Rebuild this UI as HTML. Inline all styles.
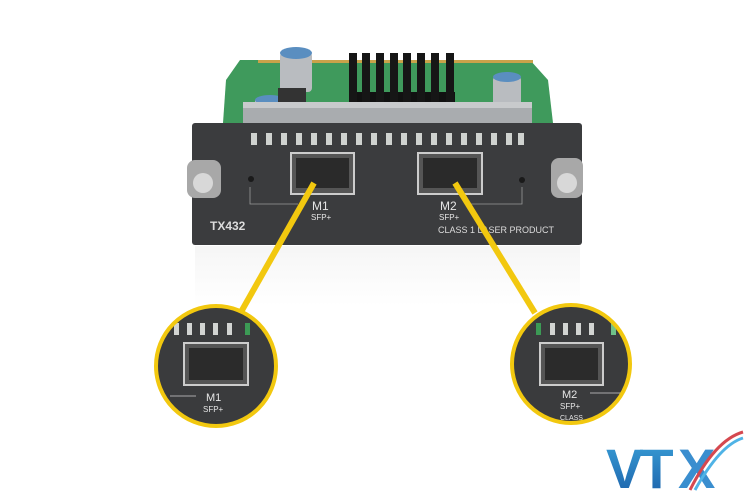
<!DOCTYPE html>
<html><head><meta charset="utf-8"><style>
html,body{margin:0;padding:0;background:#fff}
svg{display:block}
text{font-family:"Liberation Sans",sans-serif}
</style></head><body>
<svg width="744" height="492" viewBox="0 0 744 492" xmlns="http://www.w3.org/2000/svg">
<defs>
<linearGradient id="refl" x1="0" y1="0" x2="0" y2="1">
<stop offset="0" stop-color="#ececec"/><stop offset="1" stop-color="#fff"/>
</linearGradient>
<linearGradient id="blue" x1="0" y1="0" x2="0" y2="1">
<stop offset="0" stop-color="#3aa0d8"/><stop offset="1" stop-color="#1b5fa8"/>
</linearGradient>
<clipPath id="cl"><circle cx="216" cy="366" r="59"/></clipPath>
<clipPath id="cr"><circle cx="571" cy="364" r="58"/></clipPath>
</defs>
<rect width="744" height="492" fill="#fff"/>
<rect x="195" y="246" width="385" height="60" fill="url(#refl)" opacity="0.5"/>
<!-- PCB -->
<polygon points="240,60 530,60 548,80 553,123 223,123 226,80" fill="#3f9a5c"/>
<rect x="258" y="60" width="275" height="3" fill="#c9a24a"/>
<rect x="280" y="52" width="32" height="40" rx="4" fill="#b9bcc0"/>
<ellipse cx="296" cy="53" rx="16" ry="6" fill="#5a8ec0"/>
<rect x="493" y="76" width="28" height="30" rx="4" fill="#b9bcc0"/>
<ellipse cx="507" cy="77" rx="14" ry="5" fill="#5a8ec0"/>
<rect x="255" y="100" width="30" height="22" fill="#b9bcc0"/>
<ellipse cx="270" cy="100" rx="15" ry="5" fill="#5a8ec0"/>
<rect x="278" y="88" width="28" height="22" fill="#333"/>
<rect x="349" y="92" width="106" height="18" fill="#111"/>
<g fill="#161616">
<rect x="349" y="53" width="8" height="57"/><rect x="362" y="53" width="8" height="57"/><rect x="376" y="53" width="8" height="57"/><rect x="390" y="53" width="8" height="57"/><rect x="403" y="53" width="8" height="57"/><rect x="417" y="53" width="8" height="57"/><rect x="431" y="53" width="8" height="57"/><rect x="446" y="53" width="8" height="57"/>
</g>
<rect x="243" y="102" width="289" height="25" fill="#a9acaf"/>
<rect x="243" y="102" width="289" height="6" fill="#c8cacc"/>
<!-- faceplate -->
<rect x="192" y="123" width="390" height="122" rx="3" fill="#3b3c3e"/>
<g fill="#cfd2cf">
<rect x="251" y="133" width="6" height="12"/><rect x="266" y="133" width="6" height="12"/><rect x="281" y="133" width="6" height="12"/><rect x="296" y="133" width="6" height="12"/><rect x="311" y="133" width="6" height="12"/><rect x="326" y="133" width="6" height="12"/><rect x="341" y="133" width="6" height="12"/><rect x="356" y="133" width="6" height="12"/><rect x="371" y="133" width="6" height="12"/><rect x="386" y="133" width="6" height="12"/><rect x="401" y="133" width="6" height="12"/><rect x="416" y="133" width="6" height="12"/><rect x="431" y="133" width="6" height="12"/><rect x="446" y="133" width="6" height="12"/><rect x="461" y="133" width="6" height="12"/><rect x="476" y="133" width="6" height="12"/><rect x="491" y="133" width="6" height="12"/><rect x="506" y="133" width="6" height="12"/><rect x="518" y="133" width="6" height="12"/>
</g>
<rect x="291" y="153" width="63" height="41" fill="#555" stroke="#ccc" stroke-width="2"/>
<rect x="296" y="158" width="53" height="30" fill="#2a2a2a"/>
<rect x="418" y="153" width="64" height="41" fill="#555" stroke="#ccc" stroke-width="2"/>
<rect x="423" y="158" width="54" height="30" fill="#2a2a2a"/>
<circle cx="251" cy="179" r="3" fill="#1a1a1a"/><circle cx="522" cy="180" r="3" fill="#1a1a1a"/>
<polyline points="250,187 250,204 298,204" fill="none" stroke="#999" stroke-width="0.8"/>
<polyline points="522,187 522,204 470,204" fill="none" stroke="#999" stroke-width="0.8"/>
<!-- screws -->
<rect x="187" y="160" width="34" height="38" rx="8" fill="#a8a8a8"/>
<circle cx="203" cy="183" r="10" fill="#d8d8d8"/>
<rect x="551" y="158" width="32" height="40" rx="8" fill="#a8a8a8"/>
<circle cx="567" cy="183" r="10" fill="#d8d8d8"/>
<!-- text -->
<text x="312" y="210" fill="#e6e6e6" font-size="12">M1</text>
<text x="311" y="220" fill="#e6e6e6" font-size="8">SFP+</text>
<text x="440" y="210" fill="#e6e6e6" font-size="12">M2</text>
<text x="439" y="220" fill="#e6e6e6" font-size="8">SFP+</text>
<text x="210" y="230" fill="#dcdcdc" font-size="12" font-weight="bold">TX432</text>
<text x="438" y="233" fill="#dcdcdc" font-size="9">CLASS 1 LASER PRODUCT</text>
<!-- yellow connectors -->
<line x1="314" y1="183" x2="241" y2="312" stroke="#f2c80f" stroke-width="6"/>
<line x1="455" y1="183" x2="535" y2="313" stroke="#f2c80f" stroke-width="6"/>
<!-- left circle -->
<g clip-path="url(#cl)">
<rect x="150" y="300" width="130" height="130" fill="#3a3b3d"/>
<g fill="#d2d4d2"><rect x="174" y="323" width="5" height="12"/><rect x="187" y="323" width="5" height="12"/><rect x="200" y="323" width="5" height="12"/><rect x="213" y="323" width="5" height="12"/><rect x="227" y="323" width="5" height="12"/><rect x="245" y="323" width="5" height="12" fill="#3c9a55"/></g>
<rect x="184" y="343" width="64" height="42" fill="#555" stroke="#ccc" stroke-width="2"/>
<rect x="189" y="348" width="54" height="32" fill="#2b2b2b"/>
<line x1="170" y1="396" x2="196" y2="396" stroke="#aaa"/>
<text x="206" y="401" fill="#e6e6e6" font-size="11">M1</text>
<text x="203" y="412" fill="#e6e6e6" font-size="8">SFP+</text>
</g>
<circle cx="216" cy="366" r="60" fill="none" stroke="#f2c80f" stroke-width="4"/>
<!-- right circle -->
<g clip-path="url(#cr)">
<rect x="505" y="300" width="130" height="130" fill="#3a3b3d"/>
<g fill="#d2d4d2"><rect x="536" y="323" width="5" height="12" fill="#3c9a55"/><rect x="550" y="323" width="5" height="12"/><rect x="563" y="323" width="5" height="12"/><rect x="576" y="323" width="5" height="12"/><rect x="589" y="323" width="5" height="12"/><rect x="611" y="323" width="5" height="12" fill="#6fc28a"/></g>
<rect x="540" y="343" width="63" height="42" fill="#555" stroke="#ccc" stroke-width="2"/>
<rect x="545" y="348" width="53" height="32" fill="#2b2b2b"/>
<line x1="590" y1="393" x2="625" y2="393" stroke="#aaa"/>
<text x="562" y="398" fill="#e6e6e6" font-size="11">M2</text>
<text x="560" y="409" fill="#e6e6e6" font-size="8">SFP+</text>
<text x="560" y="420" fill="#e6e6e6" font-size="7">CLASS</text>
</g>
<circle cx="571" cy="364" r="59" fill="none" stroke="#f2c80f" stroke-width="4"/>
<!-- VTX logo -->
<text x="606" y="488" fill="url(#blue)" font-size="56" font-weight="bold" letter-spacing="-4">VT</text>
<text x="678" y="488" fill="#3a8ecf" font-size="56" font-weight="bold">X</text>
<path d="M690,490 Q715,440 743,432" fill="none" stroke="#d5484f" stroke-width="3"/>
<path d="M695,490 Q720,445 743,438" fill="none" stroke="#4fb3e6" stroke-width="3"/>
</svg>
</body></html>
